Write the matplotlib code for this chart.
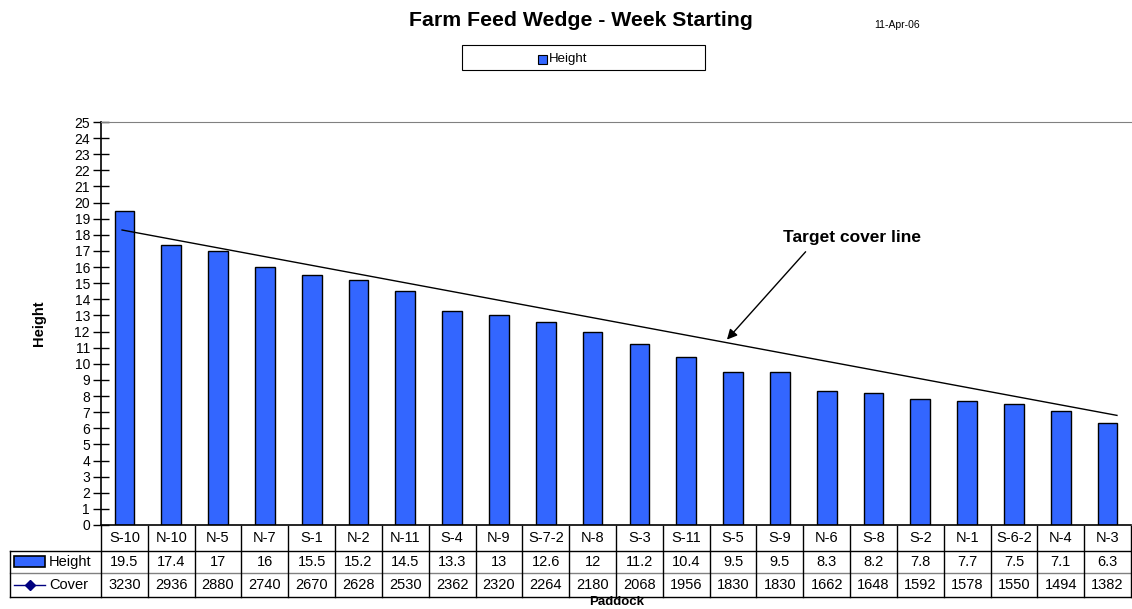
import matplotlib
matplotlib.use("Agg")
import matplotlib.pyplot as plt
from matplotlib.patches import Rectangle
from matplotlib.lines import Line2D

plt.rcParams['font.family'] = ['Liberation Sans', 'DejaVu Sans']

paddocks = ["S-10", "N-10", "N-5", "N-7", "S-1", "N-2", "N-11", "S-4", "N-9", "S-7-2", "N-8",
            "S-3", "S-11", "S-5", "S-9", "N-6", "S-8", "S-2", "N-1", "S-6-2", "N-4", "N-3"]
height = [19.5, 17.4, 17, 16, 15.5, 15.2, 14.5, 13.3, 13, 12.6, 12, 11.2, 10.4, 9.5, 9.5,
          8.3, 8.2, 7.8, 7.7, 7.5, 7.1, 6.3]
cover = [3230, 2936, 2880, 2740, 2670, 2628, 2530, 2362, 2320, 2264, 2180, 2068, 1956, 1830,
         1830, 1662, 1648, 1592, 1578, 1550, 1494, 1382]
target_x = [-0.05, 21.2]
target_y = [18.3, 6.8]

W, H = 1132, 609
fig = plt.figure(figsize=(W / 100, H / 100), dpi=100)
left_px, right_px, top_px, bot_px = 101, 1131, 122, 525
ax = fig.add_axes([left_px / W, 1 - bot_px / H, (right_px - left_px) / W, (bot_px - top_px) / H])

n = len(paddocks)
xs = list(range(n))
bar_color = '#3366ff'
ax.bar(xs, height, width=0.42, color=bar_color, edgecolor='black', linewidth=1.0, zorder=2)
ax.set_xlim(-0.5, n - 0.5)
ax.set_ylim(0, 25)
ax.set_yticks(range(0, 26))
ax.tick_params(axis='y', direction='inout', length=11, width=1, labelsize=10, pad=2.5)
ax.set_xticks([])
ax.spines['right'].set_visible(False)
ax.spines['top'].set_color('#808080')
ax.spines['left'].set_linewidth(1.2)
ax.spines['bottom'].set_linewidth(1.2)

# target cover line
ax.plot(target_x, target_y, color='black', linewidth=1.0, zorder=3)
ax.annotate("", xy=(12.87, 11.5), xytext=(14.55, 16.95),
            arrowprops=dict(arrowstyle='-|>', color='black', lw=1.0,
                            mutation_scale=15, shrinkA=0, shrinkB=0))
ax.text(15.55, 17.85, "Target cover line", ha='center', va='center', fontsize=12.5,
        fontweight='bold')

ax.set_ylabel("Height", fontsize=10.5, fontweight='bold', labelpad=20)


def fy(py):
    return 1 - py / H


def fx(px):
    return px / W


rows_px = [525.5, 550.5, 573, 597]
col_w = (right_px - left_px) / n
tfs = 10.5
tkw = dict(transform=fig.transFigure, fontsize=tfs, ha='center', va='center')


def hline(x0, x1, y, color='black'):
    fig.add_artist(Line2D([fx(x0), fx(x1)], [fy(y), fy(y)], transform=fig.transFigure,
                          color=color, lw=1.0))


hline(10, right_px, rows_px[1])
hline(10, right_px, rows_px[2], '#808080')
hline(10, right_px, rows_px[3])
fig.add_artist(Line2D([fx(10), fx(10)], [fy(rows_px[1]), fy(rows_px[3])],
                      transform=fig.transFigure, color='black', lw=1.0))
for i in range(n + 1):
    xp = left_px + i * col_w
    fig.add_artist(Line2D([fx(xp), fx(xp)], [fy(rows_px[0]), fy(rows_px[3])],
                          transform=fig.transFigure, color='black', lw=1.0))
for i in range(n):
    xc = left_px + (i + 0.5) * col_w
    fig.text(fx(xc), fy((rows_px[0] + rows_px[1]) / 2), paddocks[i], **tkw)
    fig.text(fx(xc), fy((rows_px[1] + rows_px[2]) / 2), f"{height[i]:g}", **tkw)
    fig.text(fx(xc), fy((rows_px[2] + rows_px[3]) / 2), f"{cover[i]}", **tkw)

# row legend keys
fig.add_artist(Rectangle((fx(14), fy(566.5)), fx(45) - fx(14), fy(556) - fy(566.5),
                         transform=fig.transFigure, facecolor=bar_color, edgecolor='black', lw=1.2))
fig.text(fx(49), fy((rows_px[1] + rows_px[2]) / 2), "Height", transform=fig.transFigure,
         fontsize=tfs, ha='left', va='center')
ycv = fy((rows_px[2] + rows_px[3]) / 2)
fig.add_artist(Line2D([fx(14), fx(45)], [ycv, ycv], transform=fig.transFigure,
                      color='#000080', lw=1.0))
fig.add_artist(Line2D([fx(30)], [ycv], transform=fig.transFigure, color='#000080',
                      marker='D', markersize=5, linestyle='none'))
fig.text(fx(49), ycv, "Cover", transform=fig.transFigure, fontsize=tfs, ha='left', va='center')

fig.text(fx(617), fy(602), "Paddock", transform=fig.transFigure, fontsize=9.5,
         fontweight='bold', ha='center', va='center')

# title and date
fig.text(fx(581), fy(21), "Farm Feed Wedge - Week Starting", fontsize=15.3,
         fontweight='bold', ha='center', va='center')
fig.text(fx(897), fy(25), "11-Apr-06", fontsize=7.5, ha='center', va='center')

# legend box
fig.add_artist(Rectangle((fx(462), fy(70)), fx(705) - fx(462), fy(45) - fy(70),
                         transform=fig.transFigure, facecolor='white', edgecolor='black', lw=0.8))
fig.add_artist(Rectangle((fx(538), fy(63.5)), fx(547) - fx(538), fy(54.5) - fy(63.5),
                         transform=fig.transFigure, facecolor=bar_color, edgecolor='black', lw=0.8))
fig.text(fx(549), fy(59), "Height", fontsize=9.5, ha='left', va='center')

fig.savefig("out.png", dpi=100)
